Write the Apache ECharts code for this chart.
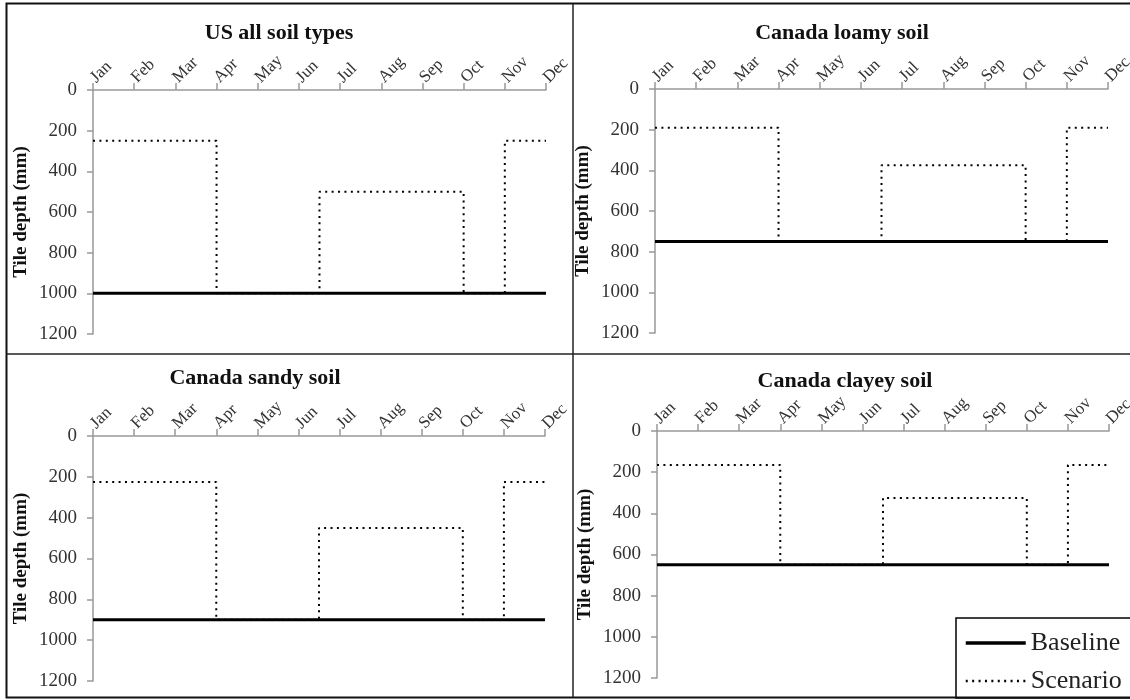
<!DOCTYPE html>
<html>
<head>
<meta charset="utf-8">
<script src="https://cdn.jsdelivr.net/npm/echarts@6/dist/echarts.min.js"></script>
<style>
html,body{margin:0;padding:0;background:#fff;}
#chart{width:1130px;height:700px;}
</style>
</head>
<body>
<div id="chart"></div>
<script>
const months = ['Jan','Feb','Mar','Apr','May','Jun','Jul','Aug','Sep','Oct','Nov','Dec'];
const panelTitles = ['US all soil types','Canada loamy soil','Canada sandy soil','Canada clayey soil'];
const yAxisTitle = 'Tile depth (mm)';
const baselineDepth = [1000, 750, 900, 650];
const scenarioWinterDepth = [250, 190, 225, 165];
const scenarioSummerDepth = [500, 375, 450, 325];
// month index (Jan = 0): winter level ends, summer level starts, summer level ends, winter level resumes
const scenarioSwitchMonth = [3, 5.5, 9, 10];
const seriesNames = ['Baseline', 'Scenario'];

const FONT = '"Liberation Serif", "Times New Roman", serif';
const DOT = [2, 4.4];
const grids = [
  {left: 93, top: 90, width: 453, height: 244, outerBoundsMode: 'none'},
  {left: 655, top: 89, width: 453, height: 244, outerBoundsMode: 'none'},
  {left: 93, top: 436, width: 452, height: 245, outerBoundsMode: 'none'},
  {left: 657, top: 431, width: 452, height: 247, outerBoundsMode: 'none'}
];
const titlePos = [[279, 22], [842, 22], [255, 367], [845, 370]];

const xAxes = [], yAxes = [], series = [], titles = [];
for (let i = 0; i < 4; i++) {
  const b = baselineDepth[i], w = scenarioWinterDepth[i], su = scenarioSummerDepth[i];
  const s = scenarioSwitchMonth;
  const last = months.length - 1;
  titles.push({
    text: panelTitles[i], left: titlePos[i][0], top: titlePos[i][1], textAlign: 'center', padding: 0,
    textStyle: {fontFamily: FONT, fontWeight: 'bold', fontSize: 22, color: '#111'}
  });
  xAxes.push({
    gridIndex: i, type: 'value', position: 'top', min: 0, max: last, interval: 1,
    axisLine: {show: true, onZero: false, lineStyle: {color: '#999', width: 1.5}},
    axisTick: {show: true, length: 7, lineStyle: {color: '#999', width: 1.5}},
    splitLine: {show: false},
    axisLabel: {rotate: -45, margin: 10, fontFamily: FONT, fontSize: 17, color: '#333',
      hideOverlap: false, formatter: v => months[Math.round(v)] || ''}
  });
  yAxes.push({
    gridIndex: i, type: 'value', inverse: true, min: 0, max: 1200, interval: 200,
    name: yAxisTitle, nameLocation: 'middle', nameGap: 62, nameRotate: 90,
    nameTextStyle: {fontFamily: FONT, fontWeight: 'bold', fontSize: 19, color: '#111'},
    axisLine: {show: true, onZero: false, lineStyle: {color: '#999', width: 1.5}},
    axisTick: {show: true, length: 6, lineStyle: {color: '#999', width: 1.5}},
    splitLine: {show: false},
    axisLabel: {margin: 16, fontFamily: FONT, fontSize: 19, color: '#333', formatter: v => String(v)}
  });
  series.push({
    name: seriesNames[1], type: 'line', xAxisIndex: i, yAxisIndex: i, symbol: 'none', z: 2,
    lineStyle: {color: '#000', width: 2, type: DOT, cap: 'butt'},
    data: [[0, w], [s[0], w], [s[0], b], [s[1], b], [s[1], su], [s[2], su], [s[2], b], [s[3], b], [s[3], w], [last, w]],
    animation: false
  });
  series.push({
    name: seriesNames[0], type: 'line', xAxisIndex: i, yAxisIndex: i, symbol: 'none', z: 3,
    lineStyle: {color: '#000', width: 3},
    data: [[0, b], [last, b]],
    animation: false
  });
}

const chart = echarts.init(document.getElementById('chart'), null, {renderer: 'canvas'});
chart.setOption({
  backgroundColor: '#fff',
  animation: false,
  title: titles,
  grid: grids,
  xAxis: xAxes,
  yAxis: yAxes,
  series: series,
  legend: {
    data: [
      {name: seriesNames[0], lineStyle: {width: 3.5, color: '#000'}},
      {name: seriesNames[1], lineStyle: {width: 2.5, color: '#000', type: DOT}}
    ],
    orient: 'vertical', left: 956, top: 618,
    itemWidth: 60, itemHeight: 14, itemGap: 12,
    padding: [12, 40, 4, 8],
    borderColor: '#000', borderWidth: 1.5, backgroundColor: '#fff',
    itemStyle: {color: 'rgba(0,0,0,0)', borderWidth: 0, opacity: 0},
    textStyle: {fontFamily: FONT, fontSize: 26, lineHeight: 26, color: '#222'}
  },
  graphic: [
    {type: 'rect', shape: {x: 6.5, y: 3.5, width: 1140, height: 694}, style: {fill: null, stroke: '#111', lineWidth: 2}, silent: true, z: 100},
    {type: 'line', shape: {x1: 573, y1: 3.5, x2: 573, y2: 697.5}, style: {stroke: '#222', lineWidth: 1.5}, silent: true, z: 100},
    {type: 'line', shape: {x1: 6.5, y1: 354, x2: 1140, y2: 354}, style: {stroke: '#222', lineWidth: 1.5}, silent: true, z: 100}
  ]
});
</script>
</body>
</html>
